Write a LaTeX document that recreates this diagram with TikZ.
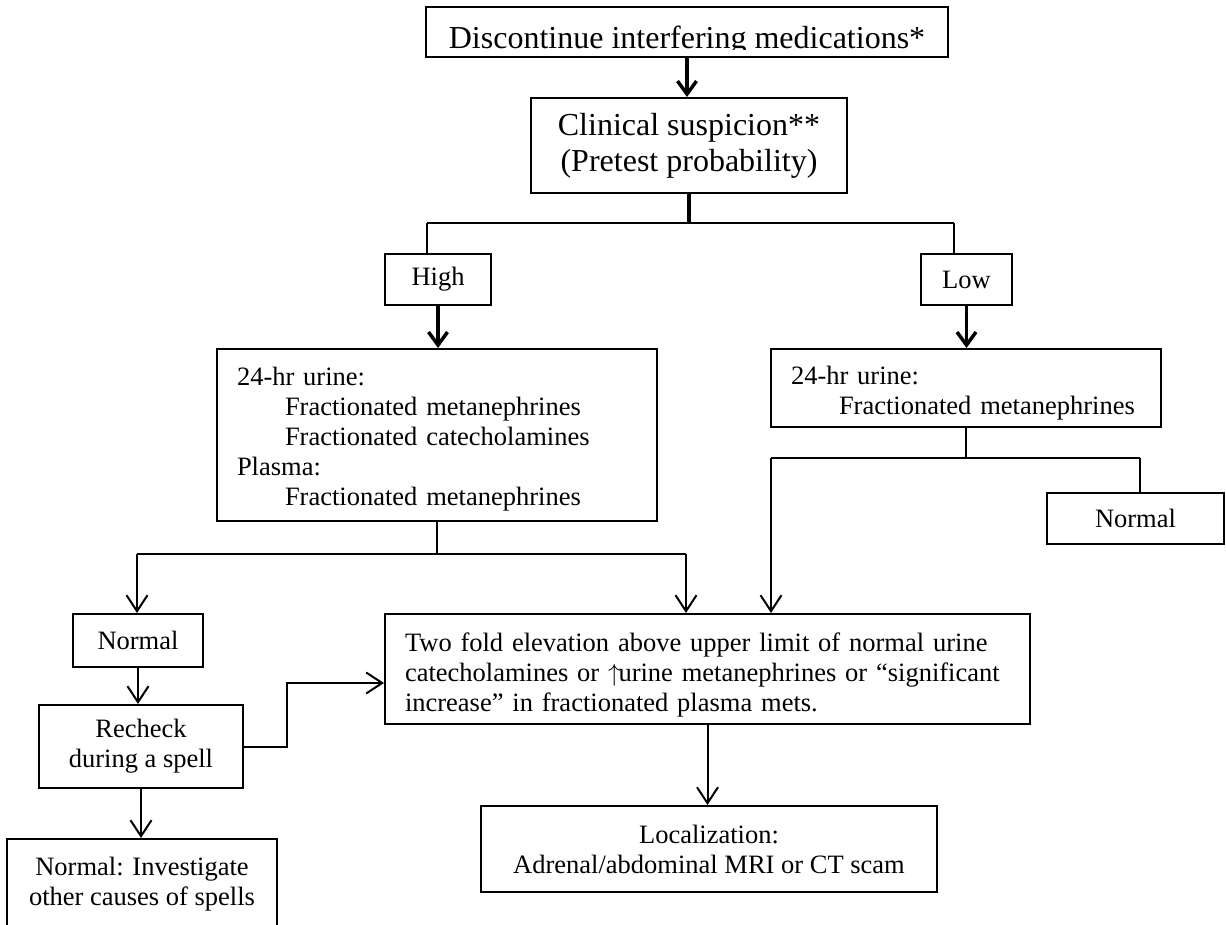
\documentclass[tikz,border=0pt]{standalone}
\usepackage{fontspec}
\setmainfont{Liberation Serif}
\usetikzlibrary{arrows.meta,calc}
\tikzset{
  box/.style={draw, line width=2pt, rectangle, inner sep=0pt, font=\fontsize{26.5}{30}\selectfont},
  bigbox/.style={box, font=\fontsize{32}{36}\selectfont},
  conn/.style={line width=2pt},
  thickconn/.style={line width=3.5pt},
  arr/.style={line width=2pt, -{Straight Barb[length=16pt,width=21pt]}},
  thickarr/.style={line width=3.5pt, -{Straight Barb[length=13pt,width=19pt]}},
}
\begin{document}
\begin{tikzpicture}[x=1pt,y=-1pt]
\useasboundingbox (0,0) rectangle (1226,924);
\fill[white] (0,0) rectangle (1226,924);
\clip (0,0) rectangle (1226,924);

% boxes
\node[bigbox, minimum width=522pt, minimum height=50pt] (top) at (687,32) {};
\begin{scope}
  \clip (426,7) rectangle (948,49);
  \node[anchor=base, inner sep=0pt, font=\fontsize{32}{36}\selectfont] (toptxt) at (687,48) {Discontinue interfering medications*};
\end{scope}
\node[bigbox, minimum width=316pt, minimum height=95pt, align=center] (clin) at (689,145.5) {Clinical suspicion**\\(Pretest probability)};

\node[box, minimum width=106pt, minimum height=51pt] (high) at (438,279.5) {High};
\node[box, minimum width=91pt, minimum height=51pt] (low) at (966.5,279.5) {Low};

\node[box, minimum width=440pt, minimum height=172pt, text width=400pt, inner xsep=20pt, align=left] (hires) at (437,435)
  {\rule{0pt}{26pt}24-hr urine:\\\hspace*{48pt}Fractionated metanephrines\\\hspace*{48pt}Fractionated catecholamines\\Plasma:\\\hspace*{48pt}Fractionated metanephrines};

\node[box, minimum width=390pt, minimum height=78pt, text width=350pt, inner xsep=20pt, align=left] (lores) at (966,388)
  {\rule{0pt}{28pt}24-hr urine:\\\hspace*{48pt}Fractionated metanephrines};

\node[box, minimum width=177pt, minimum height=51pt] (normR) at (1135.5,518.5) {Normal};

\node[box, minimum width=645pt, minimum height=110pt, text width=605pt, inner xsep=20pt, align=left] (two) at (707.5,669)
  {\rule{0pt}{30pt}Two fold elevation above upper limit of normal urine\\catecholamines or $\uparrow$\kern-2pt urine metanephrines or “significant\\increase” in fractionated plasma mets.};

\node[box, minimum width=130pt, minimum height=53pt] (norm1) at (138,640.5) {Normal};
\node[box, minimum width=204pt, minimum height=83pt, align=center] (rech) at (141,746.5) {Recheck\\during a spell};
\node[box, anchor=north, minimum width=270pt, inner ysep=18pt, align=center] (bot) at (142,838) {Normal: Investigate\\other causes of spells};
\node[box, minimum width=456pt, minimum height=86pt, align=center] (loc) at (709,849) {Localization:\\Adrenal/abdominal MRI or CT scam};

% connector coordinates
\coordinate (sL) at (427,223);
\coordinate (sR) at (954,223);
\coordinate (jL) at (137,554);
\coordinate (jR) at (686,554);
\coordinate (kL) at (771,458);
\coordinate (kR) at (1140,458);
\coordinate (bend) at (287,683);

% connectors
\draw[thickarr] (top.south) -- (top.south |- clin.north);
\draw[thickconn] (clin.south) -- (clin.south |- sL);
\draw[conn] (sL) -- (sR);
\draw[conn] (sL) -- (sL |- high.north);
\draw[conn] (sR) -- (sR |- low.north);
\draw[thickarr] (high.south) -- (high.south |- hires.north);
\draw[thickarr] (low.south) -- (low.south |- lores.north);

\draw[conn] (hires.south) -- (hires.south |- jL);
\draw[conn] (jL) -- (jR);
\draw[arr] (jL) -- (jL |- norm1.north);
\draw[arr] (jR) -- (jR |- two.north);

\draw[conn] (lores.south) -- (lores.south |- kL);
\draw[conn] (kL) -- (kR);
\draw[arr] (kL) -- (kL |- two.north);
\draw[conn] (kR) -- (kR |- normR.north);

\draw[arr] (norm1.south) -- (norm1.south |- rech.north);
\draw[arr] (rech.east) -| (bend) -- (bend -| two.west);
\draw[arr] (rech.south) -- (rech.south |- bot.north);
\draw[arr] (two.south) -- (two.south |- loc.north);
\end{tikzpicture}
\end{document}
